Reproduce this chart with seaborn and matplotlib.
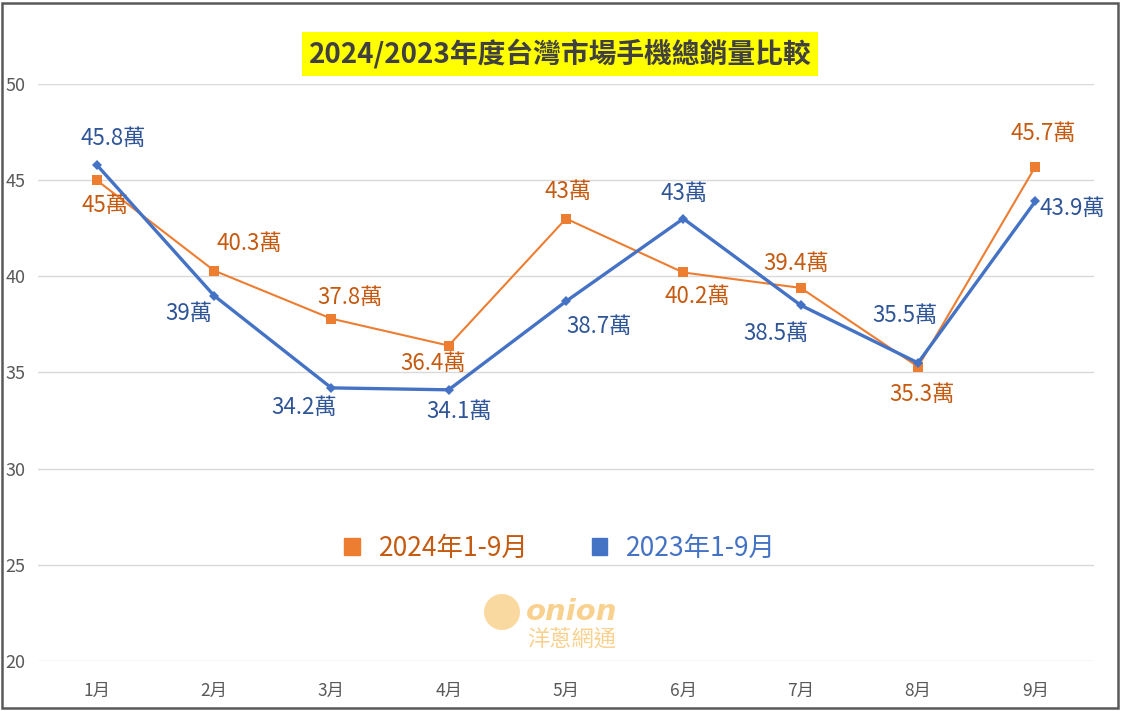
import matplotlib
matplotlib.use("Agg")
import matplotlib.pyplot as plt
import matplotlib.patches as mpatches
import seaborn as sns
import pandas as pd
import numpy as np

months = ["1月", "2月", "3月", "4月", "5月", "6月", "7月", "8月", "9月"]
sales_2024 = [45, 40.3, 37.8, 36.4, 43, 40.2, 39.4, 35.3, 45.7]
sales_2023 = [45.8, 39, 34.2, 34.1, 38.7, 43, 38.5, 35.5, 43.9]
series_names = ["2024年1-9月", "2023年1-9月"]
y_ticks = [20, 25, 30, 35, 40, 45, 50]
title = "2024/2023年度台灣市場手機總銷量比較"

sns.set_theme(style="white")
plt.rcParams["font.family"] = ["Noto Sans CJK TC", "DejaVu Sans"]

ORANGE = "#ED7D31"
ORANGE_TXT = "#C55A11"
BLUE = "#4472C4"
BLUE_TXT = "#2F5597"
GRAY = "#595959"

fig = plt.figure(figsize=(11.22, 7.11), dpi=100)
ax = fig.add_axes([38 / 1122, (711 - 661) / 711, (1094 - 38) / 1122, (661 - 84) / 711])

idx = np.arange(len(months))
df = pd.DataFrame({
    "x": np.concatenate([idx, idx]),
    "value": sales_2024 + sales_2023,
    "series": [series_names[0]] * len(months) + [series_names[1]] * len(months),
})

sns.lineplot(data=df[df.series == series_names[0]], x="x", y="value", ax=ax,
             color=ORANGE, linewidth=1.5, marker="s", markersize=6.5,
             markeredgewidth=0, zorder=3, legend=False)
sns.lineplot(data=df[df.series == series_names[1]], x="x", y="value", ax=ax,
             color=BLUE, linewidth=2.4, marker="D", markersize=5.5,
             markeredgewidth=0, zorder=4, legend=False)

ax.set_xlim(-0.5, len(months) - 0.5)
ax.set_ylim(20, 50)
ax.set_yticks(y_ticks)
ax.set_xticks(idx)
ax.set_xticklabels(months)
ax.grid(axis="y", color="#D9D9D9", linewidth=1)
ax.grid(axis="x", visible=False)
for s in ax.spines.values():
    s.set_visible(False)
ax.tick_params(axis="y", colors=GRAY, labelsize=13, length=0, pad=9)
ax.tick_params(axis="x", colors=GRAY, labelsize=12.5, length=0, pad=15)
ax.set_xlabel("")
ax.set_ylabel("")

# data labels (offsets in pixels)
off_2024 = [(8, -25), (35, 27), (19, 21), (-16, -18), (2, 27), (14, -24), (-5, 24), (4, -28), (8, 33)]
off_2023 = [(17, 26), (-25, -18), (-27, -20), (10, -22), (33, -25), (1, 25), (-25, -28), (-13, 47), (37, -7)]
for i, (v, o) in enumerate(zip(sales_2024, off_2024)):
    ax.annotate(f"{v:g}萬", (i, v), xytext=o, textcoords="offset pixels",
                ha="center", va="center", fontsize=16, color=ORANGE_TXT)
for i, (v, o) in enumerate(zip(sales_2023, off_2023)):
    ax.annotate(f"{v:g}萬", (i, v), xytext=o, textcoords="offset pixels",
                ha="center", va="center", fontsize=16, color=BLUE_TXT)

# legend
handles = [mpatches.Patch(color=ORANGE), mpatches.Patch(color=BLUE)]
leg = ax.legend(handles, series_names, loc="center", bbox_to_anchor=(560 / 1122, 1 - 548 / 711),
                bbox_transform=fig.transFigure, ncol=2, frameon=False, fontsize=19,
                handlelength=0.6, handleheight=0.6, handletextpad=0.7, columnspacing=2.4)
for t, c in zip(leg.get_texts(), [ORANGE_TXT, BLUE]):
    t.set_color(c)

# title
fig.text(560 / 1122, 1 - 54 / 711, title, ha="center", va="center", fontsize=20,
         fontweight="bold", color="#404040",
         bbox=dict(boxstyle="square,pad=0.25", facecolor="#FFFF00", edgecolor="none"))

# watermark
wm = "#F9C97A"
fig.patches.append(mpatches.Ellipse((502 / 1122, 1 - 612 / 711), 36 / 1122, 36 / 711,
                                    transform=fig.transFigure,
                                    facecolor=wm, edgecolor="none", alpha=0.7))
fig.text(572 / 1122, 1 - 612 / 711, "onion", ha="center", va="center", fontsize=21,
         fontstyle="italic", fontweight="bold", color=wm, alpha=0.85, family="DejaVu Sans")
fig.text(572 / 1122, 1 - 639 / 711, "洋蔥網通", ha="center", va="center", fontsize=16,
         color=wm, alpha=0.85)

# outer border
fig.patches.append(mpatches.Rectangle((1.5 / 1122, 3 / 711), 1116 / 1122, 705 / 711,
                                      transform=fig.transFigure, fill=False,
                                      edgecolor=GRAY, linewidth=1.8))

fig.savefig("out.png", dpi=100, facecolor="white")
